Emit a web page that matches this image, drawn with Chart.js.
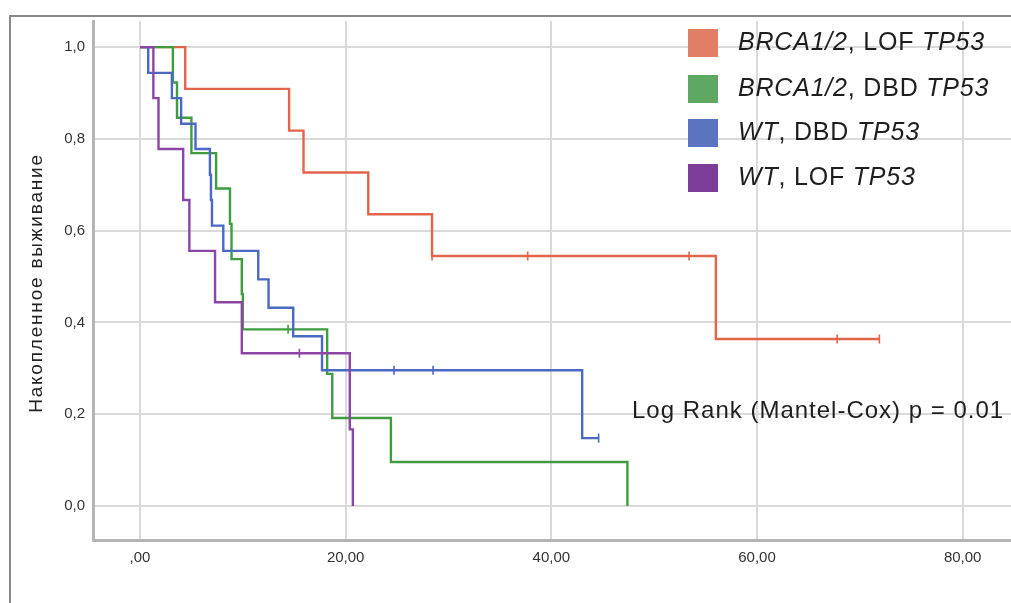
<!DOCTYPE html>
<html>
<head>
<meta charset="utf-8">
<script src="https://cdn.jsdelivr.net/npm/chart.js@4/dist/chart.umd.min.js"></script>
<style>
  html, body { margin: 0; padding: 0; background: #ffffff; }
  #wrap { position: relative; width: 1011px; height: 603px; }
  canvas { display: block; }
</style>
</head>
<body>
<div id="wrap"><canvas id="c" width="1011" height="603"></canvas></div>
<script>
// ---- Data ----
const seriesNames = ['BRCA1/2, LOF TP53', 'BRCA1/2, DBD TP53', 'WT, DBD TP53', 'WT, LOF TP53'];

// BRCA1/2, LOF TP53
const redTime = [0, 4.4, 14.5, 15.9, 22.2, 28.4, 56.0, 71.9];
const redSurv = [1.0, 0.909, 0.818, 0.727, 0.636, 0.545, 0.364, 0.364];
const redCensTime = [28.4, 37.7, 53.4, 67.8, 71.9];
const redCensSurv = [0.545, 0.545, 0.545, 0.364, 0.364];

// BRCA1/2, DBD TP53
const greenTime = [0, 3.2, 3.6, 5.0, 7.4, 8.75, 8.9, 9.9, 10.0, 18.2, 18.7, 24.4, 47.4];
const greenSurv = [1.0, 0.923, 0.846, 0.769, 0.692, 0.615, 0.538, 0.462, 0.385, 0.288, 0.192, 0.096, 0.0];
const greenCensTime = [14.4];
const greenCensSurv = [0.385];

// WT, DBD TP53
const blueTime = [0, 0.8, 3.1, 4.0, 5.4, 6.8, 6.9, 7.0, 8.1, 11.5, 12.5, 14.9, 17.7, 43.0, 44.6];
const blueSurv = [1.0, 0.944, 0.889, 0.833, 0.778, 0.722, 0.667, 0.611, 0.556, 0.494, 0.432, 0.370, 0.296, 0.148, 0.148];
const blueCensTime = [24.7, 28.5, 44.6];
const blueCensSurv = [0.296, 0.296, 0.148];

// WT, LOF TP53
const purpleTime = [0, 1.3, 1.8, 4.2, 4.8, 7.3, 9.9, 20.4, 20.7];
const purpleSurv = [1.0, 0.889, 0.778, 0.667, 0.556, 0.444, 0.333, 0.167, 0.0];
const purpleCensTime = [15.5];
const purpleCensSurv = [0.333];

const xTickValues = [0, 20, 40, 60, 80];
const xTickLabels = [',00', '20,00', '40,00', '60,00', '80,00'];
const yTickValues = [0, 0.2, 0.4, 0.6, 0.8, 1.0];
const yTickLabels = ['0,0', '0,2', '0,4', '0,6', '0,8', '1,0'];

const yAxisTitle = 'Накопленное выживание';
const statText = 'Log Rank (Mantel-Cox) p = 0.01';

// legend label pieces: [text, italic]
const legendPieces = [
  [['BRCA1/2', true], [', LOF ', false], ['TP53', true]],
  [['BRCA1/2', true], [', DBD ', false], ['TP53', true]],
  [['WT', true], [', DBD ', false], ['TP53', true]],
  [['WT', true], [', LOF ', false], ['TP53', true]]
];

// ---- Styles ----
const lineColors = ['#e2644a', '#3f9c41', '#4a68c4', '#8c44a6'];
const swatchColors = ['#e07f66', '#5ea862', '#5a74bf', '#7b3d97'];
const narrowFont = '"Liberation Sans Narrow", "Arial Narrow", "Liberation Sans", Arial, sans-serif';
const mainFont = '"Liberation Sans", Arial, sans-serif';

function pts(t, s) { return t.map((v, i) => ({ x: v, y: s[i] })); }

const curves = [
  [redTime, redSurv, redCensTime, redCensSurv],
  [greenTime, greenSurv, greenCensTime, greenCensSurv],
  [blueTime, blueSurv, blueCensTime, blueCensSurv],
  [purpleTime, purpleSurv, purpleCensTime, purpleCensSurv]
];

const datasets = [];
curves.forEach((c, i) => {
  datasets.push({
    type: 'line',
    label: seriesNames[i],
    data: pts(c[0], c[1]),
    stepped: 'before',
    borderColor: lineColors[i],
    borderWidth: 2.4,
    pointRadius: 0,
    fill: false,
    order: 4 - i
  });
  datasets.push({
    type: 'scatter',
    label: seriesNames[i] + ' censored',
    data: pts(c[2], c[3]),
    pointStyle: 'line',
    rotation: 90,
    pointRadius: 4.5,
    borderColor: lineColors[i],
    backgroundColor: lineColors[i],
    pointBorderWidth: 1.6,
    order: 4 - i
  });
});

const decor = {
  id: 'decor',
  beforeDraw(chart) {
    const ctx = chart.ctx;
    ctx.save();
    ctx.fillStyle = '#ffffff';
    ctx.fillRect(0, 0, chart.width, chart.height);
    // outer frame (left + top)
    ctx.strokeStyle = '#8a8a8a';
    ctx.lineWidth = 2;
    ctx.beginPath();
    ctx.moveTo(10, 603);
    ctx.lineTo(10, 16);
    ctx.lineTo(1011, 16);
    ctx.stroke();
    ctx.restore();
  },
  afterDraw(chart) {
    const ctx = chart.ctx;
    ctx.save();
    // Y axis title
    ctx.translate(37, 283);
    ctx.rotate(-Math.PI / 2);
    ctx.font = '19px ' + mainFont;
    ctx.fillStyle = '#222222';
    ctx.textAlign = 'center';
    ctx.textBaseline = 'middle';
    try { ctx.letterSpacing = '1.8px'; } catch (e) {}
    ctx.fillText(yAxisTitle, 0, 0);
    ctx.restore();

    // Legend
    ctx.save();
    const legY = [43, 89, 133, 178];
    try { ctx.letterSpacing = '0.8px'; } catch (e) {}
    legendPieces.forEach((pieces, i) => {
      ctx.fillStyle = swatchColors[i];
      ctx.fillRect(688, legY[i] - 14, 30, 28);
      let x = 738;
      ctx.fillStyle = '#1e1e1e';
      ctx.textBaseline = 'middle';
      ctx.textAlign = 'left';
      pieces.forEach(p => {
        ctx.font = (p[1] ? 'italic ' : '') + '25px ' + mainFont;
        ctx.fillText(p[0], x, legY[i]);
        x += ctx.measureText(p[0]).width;
      });
    });
    ctx.restore();

    // Log rank text
    ctx.save();
    try { ctx.letterSpacing = '1px'; } catch (e) {}
    ctx.font = '24px ' + mainFont;
    ctx.fillStyle = '#1e1e1e';
    ctx.textBaseline = 'middle';
    ctx.textAlign = 'left';
    ctx.fillText(statText, 632, 411);
    ctx.restore();
  }
};

new Chart(document.getElementById('c'), {
  data: { datasets },
  options: {
    responsive: false,
    animation: false,
    devicePixelRatio: 1,
    layout: { autoPadding: false, padding: { top: 21, right: 0, left: 0, bottom: 0 } },
    plugins: { legend: { display: false }, tooltip: { enabled: false }, title: { display: false } },
    scales: {
      x: {
        type: 'linear',
        min: -4.57,
        max: 84.7,
        afterBuildTicks: s => { s.ticks = xTickValues.map(v => ({ value: v })); },
        afterFit: s => { s.height = 63; s.paddingLeft = 0; s.paddingRight = 0; },
        grid: { color: '#dadada', lineWidth: 2, drawTicks: false },
        border: { color: '#b4b4b4', width: 3 },
        ticks: {
          padding: 9,
          color: '#333333',
          font: { family: narrowFont, size: 15 },
          maxRotation: 0,
          callback: v => { const k = xTickValues.indexOf(v); return k >= 0 ? xTickLabels[k] : ''; }
        }
      },
      y: {
        type: 'linear',
        min: -0.074,
        max: 1.057,
        afterBuildTicks: s => { s.ticks = yTickValues.map(v => ({ value: v })); },
        afterFit: s => { s.width = 93; s.paddingTop = 0; s.paddingBottom = 0; },
        grid: { color: '#dadada', lineWidth: 2, drawTicks: false },
        border: { color: '#b4b4b4', width: 3 },
        ticks: {
          padding: 8,
          color: '#333333',
          font: { family: narrowFont, size: 15 },
          callback: v => { const k = yTickValues.findIndex(t => Math.abs(t - v) < 1e-9); return k >= 0 ? yTickLabels[k] : ''; }
        }
      }
    }
  },
  plugins: [decor]
});
</script>
</body>
</html>
